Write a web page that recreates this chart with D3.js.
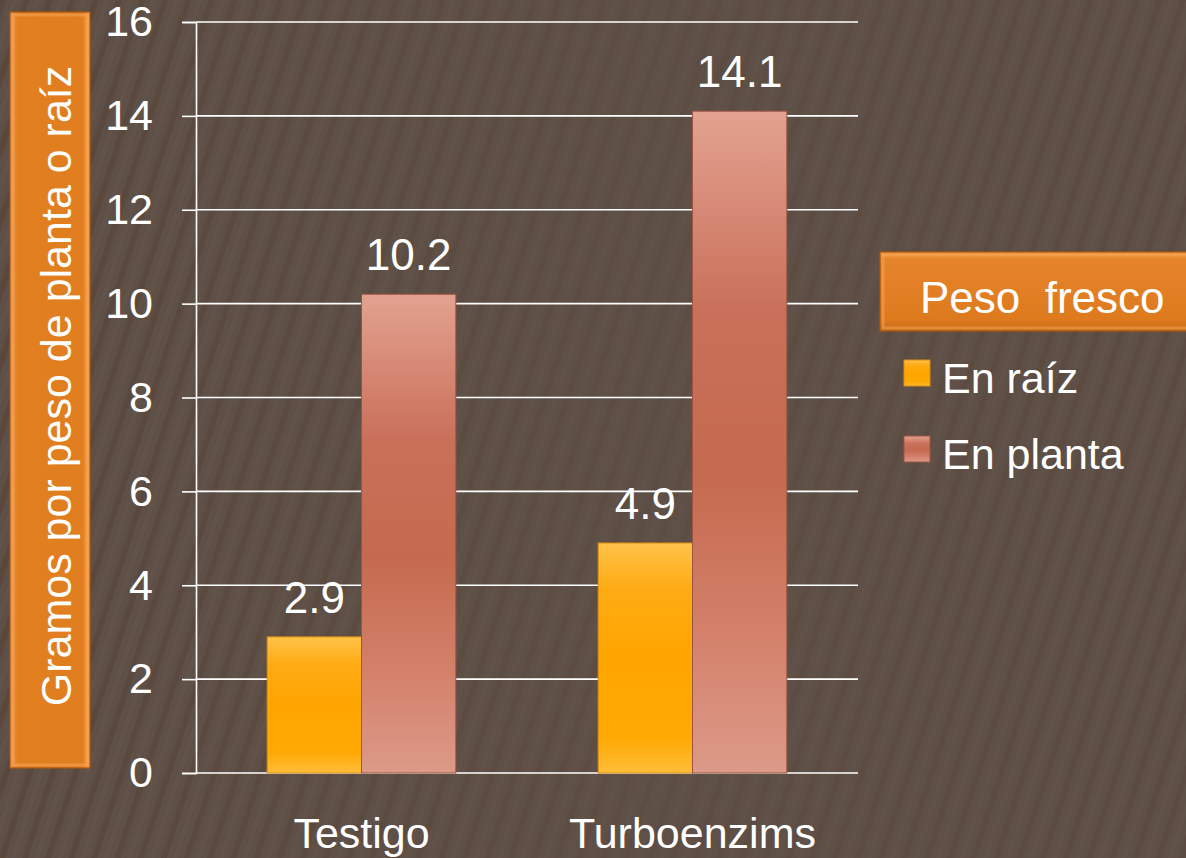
<!DOCTYPE html>
<html>
<head>
  <meta charset="UTF-8" />
  <title>Peso fresco</title>
  <style>
    body { margin: 0; background: #5e5047; overflow: hidden; }
    svg { display: block; font-family: "Liberation Sans", Arial, sans-serif; }
  </style>
  <script src="https://d3js.org/d3.v7.min.js"></script>
</head>
<body>
  <svg id="chart" width="1186" height="858"></svg>
  <script>
    const categories = ["Testigo", "Turboenzims"];
    const series = ["En raíz", "En planta"];
    const enRaiz = [2.9, 4.9];
    const enPlanta = [10.2, 14.1];
    const yTicks = [0, 2, 4, 6, 8, 10, 12, 14, 16];

    const width = 1186, height = 858;
    const margin = { top: 22, right: 328, bottom: 85, left: 196 };
    const innerW = width - margin.left - margin.right;
    const innerH = height - margin.top - margin.bottom;

    const svg = d3.select("#chart");
    const defs = svg.append("defs");

    // background stripes
    const pat = defs.append("pattern")
      .attr("id", "stripes").attr("patternUnits", "userSpaceOnUse")
      .attr("width", 22).attr("height", 22)
      .attr("patternTransform", "rotate(18)");
    pat.append("rect").attr("width", 22).attr("height", 22).attr("fill", "#5e5047");
    pat.append("rect").attr("width", 6).attr("height", 22).attr("fill", "#59463b");
    pat.append("rect").attr("x", 12).attr("width", 4).attr("height", 22).attr("fill", "#62544a");

    svg.append("rect").attr("width", width).attr("height", height).attr("fill", "url(#stripes)");
    const fade = defs.append("linearGradient").attr("id", "fade");
    fade.append("stop").attr("offset", "0").attr("stop-color", "#5e5047").attr("stop-opacity", 0.15);
    fade.append("stop").attr("offset", "0.55").attr("stop-color", "#5e5047").attr("stop-opacity", 0.65);
    fade.append("stop").attr("offset", "1").attr("stop-color", "#5e5047").attr("stop-opacity", 0.4);
    svg.append("rect").attr("width", width).attr("height", height).attr("fill", "url(#fade)");

    // gradients
    function vGrad(id, stops, horiz) {
      const g = defs.append("linearGradient").attr("id", id)
        .attr("x1", 0).attr("y1", 0).attr("x2", horiz ? 1 : 0).attr("y2", horiz ? 0 : 1);
      stops.forEach(s => g.append("stop").attr("offset", s[0]).attr("stop-color", s[1]));
    }
    vGrad("gRaiz", [[0, "#ffc24a"], [0.2, "#ffab14"], [0.5, "#ffa500"], [0.85, "#ffa904"], [1, "#ffbd3a"]]);
    vGrad("gPlanta", [[0, "#e3a290"], [0.3, "#c9705a"], [0.55, "#c56a4f"], [0.8, "#d4826c"], [1, "#dc9a88"]]);
    vGrad("gBox", [[0, "#f2993e"], [0.1, "#e6842a"], [0.85, "#de7a1e"], [1, "#c86c16"]]);
    vGrad("gBoxV", [[0, "#ec9550"], [0.1, "#e2801f"], [0.9, "#e07e20"], [1, "#f8a050"]], true);

    const g = svg.append("g").attr("transform", `translate(${margin.left},${margin.top})`);

    const y = d3.scaleLinear().domain([0, 16]).range([innerH, 0]);
    const x0 = d3.scaleBand().domain(categories).range([0, innerW]).paddingInner(0.43).paddingOuter(0.215);
    const x1 = d3.scaleBand().domain(series).range([0, x0.bandwidth()]);

    // gridlines
    g.append("g").selectAll("line").data(yTicks).join("line")
      .attr("x1", 0).attr("x2", innerW)
      .attr("y1", d => y(d)).attr("y2", d => y(d))
      .attr("stroke", "#ffffff").attr("stroke-width", 1.6);

    // y axis
    const yAxis = g.append("g")
      .call(d3.axisLeft(y).tickValues(yTicks).tickSize(14).tickPadding(29));
    yAxis.select(".domain").attr("stroke", "#fff").attr("stroke-width", 1.6);
    yAxis.selectAll(".tick line").attr("stroke", "#fff").attr("stroke-width", 1.6);
    yAxis.selectAll(".tick text").attr("fill", "#fff").attr("font-size", 43)
      .attr("font-family", "Liberation Sans, Arial, sans-serif");

    // x labels
    g.append("g").selectAll("text").data(categories).join("text")
      .attr("x", d => x0(d) + x0.bandwidth() / 2)
      .attr("y", innerH + 75)
      .attr("text-anchor", "middle").attr("fill", "#fff").attr("font-size", 43)
      .text(d => d);

    // bars
    const rows = categories.map((c, i) => ({ cat: c, vals: [enRaiz[i], enPlanta[i]] }));
    const grp = g.selectAll(".cat").data(rows).join("g")
      .attr("transform", d => `translate(${x0(d.cat)},0)`);
    grp.selectAll("rect").data(d => d.vals.map((v, j) => ({ s: series[j], v }))).join("rect")
      .attr("x", d => x1(d.s)).attr("width", x1.bandwidth())
      .attr("y", d => y(d.v)).attr("height", d => innerH - y(d.v))
      .attr("fill", d => d.s === series[0] ? "url(#gRaiz)" : "url(#gPlanta)")
      .attr("stroke", d => d.s === series[0] ? "#d98c10" : "#9c5440").attr("stroke-width", 1);
    grp.selectAll(".val").data(d => d.vals.map((v, j) => ({ s: series[j], v }))).join("text")
      .attr("class", "val")
      .attr("x", d => x1(d.s) + x1.bandwidth() / 2)
      .attr("y", d => y(d.v) - 24)
      .attr("text-anchor", "middle").attr("fill", "#fff").attr("font-size", 44)
      .text(d => d.v.toFixed(1));

    // bevelled orange boxes
    function bevelBox(xp, yp, w, h, fill) {
      svg.append("rect").attr("x", xp).attr("y", yp).attr("width", w).attr("height", h)
        .attr("fill", fill).attr("stroke", "#a8580c").attr("stroke-width", 1.2);
      svg.append("rect").attr("x", xp + 3).attr("y", yp + 3).attr("width", w - 6).attr("height", h - 6)
        .attr("fill", "none").attr("stroke", "#f8ad66").attr("stroke-opacity", 0.45).attr("stroke-width", 3);
    }
    bevelBox(10, 12, 80, 756, "url(#gBoxV)");
    svg.append("text")
      .attr("transform", "translate(71,386) rotate(-90)")
      .attr("text-anchor", "middle").attr("fill", "#fff").attr("font-size", 43)
      .text("Gramos por peso de planta o raíz");

    // legend
    bevelBox(880, 252, 320, 79, "url(#gBox)");
    svg.append("text").attr("x", 920).attr("y", 313)
      .attr("fill", "#fff").attr("font-size", 44)
      .style("white-space", "pre")
      .text("Peso  fresco");

    const leg = svg.append("g").selectAll("g").data(series).join("g")
      .attr("transform", (d, i) => `translate(904,${360 + i * 76})`);
    leg.append("rect").attr("width", 26).attr("height", 26)
      .attr("fill", (d, i) => i === 0 ? "url(#gRaiz)" : "url(#gPlanta)")
      .attr("stroke", (d, i) => i === 0 ? "#d98c10" : "#9c5440");
    leg.append("text").attr("x", 38).attr("y", 33)
      .attr("fill", "#fff").attr("font-size", 43)
      .text(d => d);
  </script>
</body>
</html>
